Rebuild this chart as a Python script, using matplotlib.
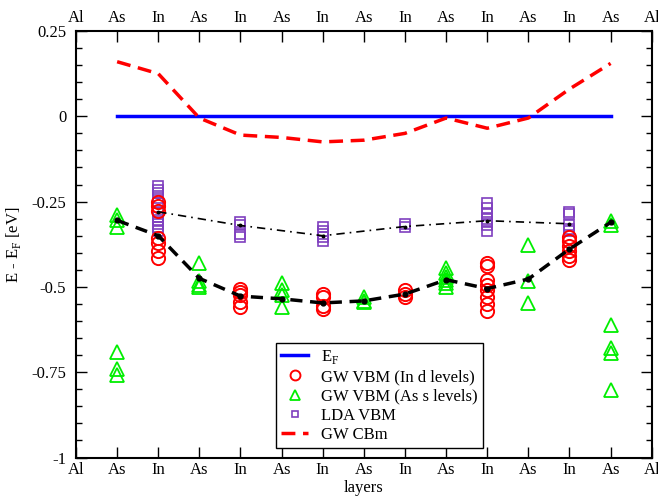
import matplotlib
matplotlib.use("Agg")
import matplotlib.pyplot as plt
from matplotlib.ticker import MultipleLocator

plt.rcParams["font.family"] = ["Liberation Serif", "DejaVu Serif"]
plt.rcParams["mathtext.fontset"] = "custom"
plt.rcParams["mathtext.rm"] = "Liberation Serif"
plt.rcParams["axes.unicode_minus"] = False

# layer sequence across the slab
LAYERS = ["Al", "As", "In", "As", "In", "As", "In", "As", "In", "As", "In", "As", "In", "As", "Al"]
SITES = list(range(1, 14))
IN_SITES = [2, 4, 6, 8, 10, 12]

Y_TICKS = [0.25, 0, -0.25, -0.5, -0.75, -1]
Y_TICK_LABELS = ["0.25", "0", "-0.25", "-0.5", "-0.75", "-1"]

# conduction band minimum (GW), one value per site
gw_cbm = [0.16, 0.125, -0.005, -0.055, -0.062, -0.075, -0.07, -0.05, -0.005, -0.035, -0.005, 0.08, 0.155]

# averaged valence band maximum per site
gw_vbm_avg = [-0.305, -0.35, -0.475, -0.527, -0.535, -0.547, -0.541, -0.521, -0.479, -0.505, -0.477, -0.389, -0.311]
lda_vbm_avg = [-0.28, -0.32, -0.35, -0.323, -0.306, -0.315]

# GW VBM from In d levels (In sites)
gw_in_d = {
    2: [-0.25, -0.263, -0.278, -0.357, -0.372, -0.396, -0.415],
    4: [-0.505, -0.515, -0.525, -0.545, -0.56],
    6: [-0.52, -0.53, -0.555, -0.565],
    8: [-0.51, -0.52, -0.53],
    10: [-0.43, -0.44, -0.48, -0.495, -0.51, -0.53, -0.55, -0.57],
    12: [-0.355, -0.365, -0.38, -0.395, -0.41, -0.42],
}

# GW VBM from As s levels (As sites)
gw_as_s = {
    1: [-0.29, -0.303, -0.323, -0.692, -0.741, -0.757],
    3: [-0.43, -0.484, -0.494, -0.499],
    5: [-0.49, -0.51, -0.525, -0.56],
    7: [-0.53, -0.54, -0.545],
    9: [-0.445, -0.46, -0.47, -0.48, -0.49, -0.5],
    11: [-0.376, -0.484, -0.547],
    13: [-0.308, -0.318, -0.611, -0.679, -0.694, -0.801],
}

# LDA VBM (In sites)
lda_vbm = {
    2: [-0.205, -0.215, -0.225, -0.24, -0.255, -0.28, -0.295, -0.305, -0.315, -0.325, -0.335],
    4: [-0.31, -0.32, -0.345, -0.355],
    6: [-0.325, -0.335, -0.345, -0.355, -0.365],
    8: [-0.315, -0.325],
    10: [-0.255, -0.27, -0.285, -0.3, -0.31, -0.32, -0.335],
    12: [-0.28, -0.285, -0.32, -0.33, -0.335],
}


def scatter_group(ax, groups, **kw):
    xs, ys = [], []
    for site, vals in groups.items():
        xs += [site] * len(vals)
        ys += vals
    return ax.plot(xs, ys, linestyle="none", **kw)[0]


fig = plt.figure(figsize=(6.58, 5.0), dpi=100)
ax = fig.add_axes([0.1155, 0.085, 0.875, 0.853])

h_lda = scatter_group(ax, lda_vbm, marker="s", ms=6.5, mfc="none", mec="#7f3fbf",
                      mew=1.2, label="LDA VBM")
h_in = scatter_group(ax, gw_in_d, marker="o", ms=9.5, mfc="none", mec="#ff0000",
                     mew=1.4, label="GW VBM (In d levels)")
h_as = scatter_group(ax, gw_as_s, marker="^", ms=10, mfc="none", mec="#00ee00",
                     mew=1.3, label="GW VBM (As s levels)")

h_ef, = ax.plot([1, 13], [0, 0], color="#0000ff", lw=2.5, label="E$_\\mathrm{F}$")
h_cbm, = ax.plot(SITES, gw_cbm, color="#ff0000", lw=2.5, dashes=(4, 2.2), label="GW CBm")

ax.plot(SITES, gw_vbm_avg, color="black", lw=2.5, dashes=(3.5, 2.2))
ax.plot(SITES, gw_vbm_avg, "o", color="black", ms=3.5)
ax.plot(IN_SITES, lda_vbm_avg, color="black", lw=1.2, dashes=(5, 3, 1, 3))
ax.plot(IN_SITES, lda_vbm_avg, "o", color="black", ms=1.8)

ax.set_xlim(0, 14)
ax.set_ylim(-1, 0.25)
ax.set_xticks(range(len(LAYERS)))
ax.set_xticklabels(LAYERS)
ax.set_yticks(Y_TICKS)
ax.set_yticklabels(Y_TICK_LABELS)
ax.yaxis.set_minor_locator(MultipleLocator(0.05))
ax.tick_params(which="both", direction="in", top=True, right=True, labeltop=True,
               labelsize=12, width=1)
ax.tick_params(which="major", length=8)
ax.tick_params(which="minor", length=4)
ax.tick_params(axis="y", pad=7)
for s in ax.spines.values():
    s.set_linewidth(1.5)

ax.set_xlabel("layers", fontsize=12, labelpad=1)
ax.set_ylabel("E - E$_\\mathrm{F}$ [eV]", fontsize=12, labelpad=6)

leg = ax.legend([h_ef, h_in, h_as, h_lda, h_cbm],
                [h.get_label() for h in [h_ef, h_in, h_as, h_lda, h_cbm]],
                loc="lower left", bbox_to_anchor=(0.348, 0.022), fontsize=12,
                frameon=True, fancybox=False, framealpha=1, edgecolor="black",
                handlelength=1.6, labelspacing=0.2, borderpad=0.3, handletextpad=0.8,
                borderaxespad=0, markerscale=0.75)
leg.get_frame().set_linewidth(1.0)

fig.savefig("out.png", dpi=100)
